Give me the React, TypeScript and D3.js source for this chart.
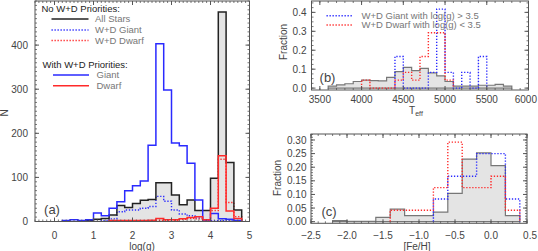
import React from 'react'
import * as d3 from 'd3'

// ---- panel (a): log(g) histograms, bins of 0.2 starting at 0.0
const loggBins = [0, 0.2, 0.4, 0.6, 0.8, 1.0, 1.2, 1.4, 1.6, 1.8, 2.0, 2.2, 2.4, 2.6, 2.8, 3.0, 3.2, 3.4, 3.6, 3.8, 4.0, 4.2, 4.4, 4.6]
const allStars = [0, 0, 0, 1, 2, 5, 7, 15, 36, 32, 41, 48, 50, 88, 88, 60, 38, 49, 25, 25, 98, 475, 134, 26]
const giantNoPri = [0, 0, 0, 0, 0, 0, 2, 6, 22, 26, 26, 30, 34, 57, 46, 26, 17, 13, 8, 2, 2, 2, 3, 2]
const dwarfNoPri = [0, 0, 0, 0, 0, 0, 0, 1, 1, 1, 1, 2, 2, 3, 3, 3, 5, 7, 6, 3, 25, 141, 43, 11]
const giantPri = [0, 2, 4, 2, 4, 19, 13, 30, 45, 70, 81, 92, 173, 403, 298, 178, 172, 132, 49, 4, 18, 6, 5, 2]
const dwarfPri = [0, 0, 0, 0, 0, 0, 0, 2, 2, 2, 2, 2, 3, 7, 4, 4, 6, 9, 11, 4, 30, 149, 24, 7]
const aXTicks = [0, 1, 2, 3, 4, 5]
const aYTicks = [0, 100, 200, 300, 400]

// ---- panel (b): Teff fractions, bins of 100 K starting at 3600
const teffBins = [3600, 3700, 3800, 3900, 4000, 4100, 4200, 4300, 4400, 4500, 4600, 4700, 4800, 4900, 5000, 5100, 5200, 5300, 5400, 5500, 5600, 5700]
const allTeff = [0.01, 0.017, 0.023, 0.035, 0.042, 0.04, 0.038, 0.057, 0.087, 0.11, 0.092, 0.104, 0.08, 0.065, 0.035, 0.01, 0.01, 0.01, 0.015, 0.015, 0.02, 0.01]
const giantTeff = [0, 0, 0, 0, 0, 0, 0, 0, 0.167, 0, 0, 0, 0.083, 0.417, 0.083, 0, 0.083, 0, 0.167, 0, 0, 0]
const dwarfTeff = [0, 0, 0, 0, 0.042, 0, 0, 0, 0.042, 0.083, 0.042, 0.167, 0.292, 0.292, 0.042, 0, 0, 0, 0, 0, 0, 0]
const bXTicks = [3500, 4000, 4500, 5000, 5500, 6000]
const bYTicks = [0, 0.1, 0.2, 0.3, 0.4]

// ---- panel (c): [Fe/H] fractions, bins of 0.2 starting at -2.2
const fehBins = [-2.2, -2.0, -1.8, -1.6, -1.4, -1.2, -1.0, -0.8, -0.6, -0.4, -0.2, 0.0, 0.2]
const allFeh = [0.004, 0.001, 0.001, 0.016, 0.046, 0.022, 0.022, 0.035, 0.104, 0.23, 0.253, 0.206, 0.022]
const giantFeh = [0, 0, 0, 0, 0, 0, 0, 0.083, 0.167, 0.167, 0.25, 0.25, 0.083]
const dwarfFeh = [0, 0, 0, 0, 0.042, 0.042, 0.042, 0.125, 0.292, 0.125, 0.125, 0.167, 0.042]
const cXTicks = [-2.5, -2.0, -1.5, -1.0, -0.5, 0.0, 0.5]
const cYTicks = [0, 0.05, 0.1, 0.15, 0.2, 0.25, 0.3]

const font = "'Liberation Sans', Arial, sans-serif"
const frameCol = '#555'
const labelCol = '#444'
const legendCol = '#777'
const blue = '#2a2aff'
const red = '#ff2a2a'
const dots = '1.3 1.7'

type Scale = d3.ScaleLinear<number, number>

function stepPath(starts: number[], w: number, vals: number[], x: Scale, y: Scale, close = false) {
  const first = vals.findIndex((v) => v > 0)
  const last = vals.length - 1 - [...vals].reverse().findIndex((v) => v > 0)
  const pts: [number, number][] = [[starts[first], 0]]
  for (let i = first; i <= last; i++) {
    pts.push([starts[i], vals[i]], [starts[i] + w, vals[i]])
  }
  pts.push([starts[last] + w, 0])
  const gen = d3
    .line<[number, number]>()
    .x((d) => x(d[0]))
    .y((d) => y(d[1]))
  return gen(pts) + (close ? 'Z' : '')
}

function Frame({ x, y, xTicks, yTicks, xMinor, yMinor, xFmt, yFmt, xLabelY, yLabelX }: any) {
  const [x0, x1] = x.range()
  const [y0, y1] = y.range()
  const [dx0, dx1] = x.domain()
  const [dy0, dy1] = y.domain()
  const eps = 1e-9
  const xm = d3.range(Math.ceil(dx0 / xMinor - eps) * xMinor, dx1 + eps, xMinor)
  const ym = d3.range(Math.ceil(dy0 / yMinor - eps) * yMinor, dy1 + eps, yMinor)
  const maj = 4
  const min = 2
  return (
    <g>
      {xm.map((v: number, i: number) => (
        <g key={'xm' + i} stroke={frameCol} strokeWidth={0.8}>
          <line x1={x(v)} x2={x(v)} y1={y0} y2={y0 - min} />
          <line x1={x(v)} x2={x(v)} y1={y1} y2={y1 + min} />
        </g>
      ))}
      {ym.map((v: number, i: number) => (
        <g key={'ym' + i} stroke={frameCol} strokeWidth={0.8}>
          <line x1={x0} x2={x0 + min} y1={y(v)} y2={y(v)} />
          <line x1={x1} x2={x1 - min} y1={y(v)} y2={y(v)} />
        </g>
      ))}
      {xTicks.map((v: number) => {
        // keep the last label inside the page
        const nearEdge = x(v) + 11 > 537
        return (
          <g key={'xt' + v}>
            <line x1={x(v)} x2={x(v)} y1={y0} y2={y0 - maj} stroke={frameCol} />
            <line x1={x(v)} x2={x(v)} y1={y1} y2={y1 + maj} stroke={frameCol} />
            <text
              x={nearEdge ? 537 : x(v)}
              y={xLabelY}
              textAnchor={nearEdge ? 'end' : 'middle'}
              fontSize={10}
              fill={labelCol}
            >
              {xFmt(v)}
            </text>
          </g>
        )
      })}
      {yTicks.map((v: number) => (
        <g key={'yt' + v}>
          <line x1={x0} x2={x0 + maj} y1={y(v)} y2={y(v)} stroke={frameCol} />
          <line x1={x1} x2={x1 - maj} y1={y(v)} y2={y(v)} stroke={frameCol} />
          <text x={yLabelX} y={y(v)} dy="0.36em" textAnchor="end" fontSize={10} fill={labelCol}>
            {yFmt(v)}
          </text>
        </g>
      ))}
      <rect x={x0} y={y1} width={x1 - x0} height={y0 - y1} fill="none" stroke={frameCol} strokeWidth={1} />
    </g>
  )
}

const minus = (s: string) => s.replace('-', '\u2212')

export default function App() {
  const xa = d3.scaleLinear().domain([-0.5, 5]).range([35, 249.5])
  const ya = d3.scaleLinear().domain([0, 500]).range([221.5, 1])
  const xb = d3.scaleLinear().domain([3400, 6000]).range([311.5, 528.5])
  const yb = d3.scaleLinear().domain([-0.01, 0.46]).range([90, 1])
  const xc = d3.scaleLinear().domain([-2.5, 0.5]).range([311, 527])
  const yc = d3.scaleLinear().domain([-0.006, 0.322]).range([223.3, 134])

  return (
    <svg
      width={538}
      height={251}
      style={{ position: 'absolute', left: 0, top: 0, background: '#fff' }}
      fontFamily={font}
    >
      {/* panel (a) */}
      <path d={stepPath(loggBins, 0.2, allStars, xa, ya, true)} fill="#e4e4e4" stroke="none" />
      <path d={stepPath(loggBins, 0.2, giantNoPri, xa, ya)} fill="none" stroke={blue} strokeWidth={1.4} strokeDasharray={dots} />
      <path d={stepPath(loggBins, 0.2, dwarfNoPri, xa, ya)} fill="none" stroke={red} strokeWidth={1.4} strokeDasharray={dots} />
      <path d={stepPath(loggBins, 0.2, allStars, xa, ya)} fill="none" stroke="#222" strokeWidth={1.5} />
      <path d={stepPath(loggBins, 0.2, giantPri, xa, ya)} fill="none" stroke={blue} strokeWidth={1.5} />
      <path d={stepPath(loggBins, 0.2, dwarfPri, xa, ya)} fill="none" stroke={red} strokeWidth={1.5} />
      <Frame
        x={xa}
        y={ya}
        xTicks={aXTicks}
        yTicks={aYTicks}
        xMinor={0.1}
        yMinor={10}
        xFmt={(v: number) => String(v)}
        yFmt={(v: number) => String(v)}
        xLabelY={238.5}
        yLabelX={28}
      />
      <text x={142} y={249.5} textAnchor="middle" fontSize={10} fill={labelCol}>log(g)</text>
      <text transform="translate(8,113) rotate(-90)" textAnchor="middle" fontSize={10} fill={labelCol}>N</text>
      <text x={52} y={213.5} textAnchor="middle" fontSize={13} fill={labelCol}>(a)</text>

      <g fontSize={9.5}>
        <text x={41.5} y={11.5} fill="#222">No W+D Priorities:</text>
        <line x1={51.5} x2={88.5} y1={19} y2={19} stroke="#222" strokeWidth={1.5} />
        <text x={95} y={22.3} fill={legendCol}>All Stars</text>
        <line x1={51.5} x2={88.5} y1={30} y2={30} stroke={blue} strokeWidth={1.4} strokeDasharray={dots} />
        <text x={95} y={33.3} fill={legendCol}>W+D Giant</text>
        <line x1={51.5} x2={88.5} y1={40.5} y2={40.5} stroke={red} strokeWidth={1.4} strokeDasharray={dots} />
        <text x={95} y={43.8} fill={legendCol}>W+D Dwarf</text>
        <text x={42.5} y={68.3} fill="#222">With W+D Priorities:</text>
        <line x1={53} x2={89} y1={75} y2={75} stroke={blue} strokeWidth={1.5} />
        <text x={96.5} y={78.3} fill={legendCol}>Giant</text>
        <line x1={53} x2={89} y1={85.7} y2={85.7} stroke={red} strokeWidth={1.5} />
        <text x={96.5} y={89} fill={legendCol}>Dwarf</text>
      </g>

      {/* panel (b) */}
      <path d={stepPath(teffBins, 100, allTeff, xb, yb, true)} fill="#e4e4e4" stroke="#777" strokeWidth={1.2} />
      <path d={stepPath(teffBins, 100, giantTeff, xb, yb)} fill="none" stroke={blue} strokeWidth={1.4} strokeDasharray={dots} />
      <path d={stepPath(teffBins, 100, dwarfTeff, xb, yb)} fill="none" stroke={red} strokeWidth={1.4} strokeDasharray={dots} />
      <Frame
        x={xb}
        y={yb}
        xTicks={bXTicks}
        yTicks={bYTicks}
        xMinor={100}
        yMinor={0.025}
        xFmt={(v: number) => String(v)}
        yFmt={(v: number) => d3.format('.1f')(v)}
        xLabelY={102.5}
        yLabelX={306.5}
      />
      <text x={416} y={114} textAnchor="middle" fontSize={10} fill={labelCol}>
        T<tspan fontSize={7} dy={2}>eff</tspan>
      </text>
      <text transform="translate(287,42) rotate(-90)" textAnchor="middle" fontSize={10} fill={labelCol}>Fraction</text>
      <text x={327.5} y={82} textAnchor="middle" fontSize={13} fill={labelCol}>(b)</text>
      <g fontSize={9.5}>
        <line x1={326.5} x2={352} y1={15.7} y2={15.7} stroke={blue} strokeWidth={1.4} strokeDasharray={dots} />
        <text x={361.5} y={19} fill={legendCol}>W+D Giant with log(g) &gt; 3.5</text>
        <line x1={326.5} x2={352} y1={25} y2={25} stroke={red} strokeWidth={1.4} strokeDasharray={dots} />
        <text x={361.5} y={28.3} fill={legendCol}>W+D Dwarf with log(g) &lt; 3.5</text>
      </g>

      {/* panel (c) */}
      <path d={stepPath(fehBins, 0.2, allFeh, xc, yc, true)} fill="#e4e4e4" stroke="#777" strokeWidth={1.2} />
      <path d={stepPath(fehBins, 0.2, giantFeh, xc, yc)} fill="none" stroke={blue} strokeWidth={1.4} strokeDasharray={dots} />
      <path d={stepPath(fehBins, 0.2, dwarfFeh, xc, yc)} fill="none" stroke={red} strokeWidth={1.4} strokeDasharray={dots} />
      <Frame
        x={xc}
        y={yc}
        xTicks={cXTicks}
        yTicks={cYTicks}
        xMinor={0.1}
        yMinor={0.01}
        xFmt={(v: number) => minus(d3.format('.1f')(v))}
        yFmt={(v: number) => d3.format('.2f')(v)}
        xLabelY={238.5}
        yLabelX={306.5}
      />
      <text x={417} y={249.5} textAnchor="middle" fontSize={10} fill={labelCol}>[Fe/H]</text>
      <text transform="translate(281,178) rotate(-90)" textAnchor="middle" fontSize={10} fill={labelCol}>Fraction</text>
      <text x={329} y={215.5} textAnchor="middle" fontSize={13} fill={labelCol}>(c)</text>
    </svg>
  )
}
